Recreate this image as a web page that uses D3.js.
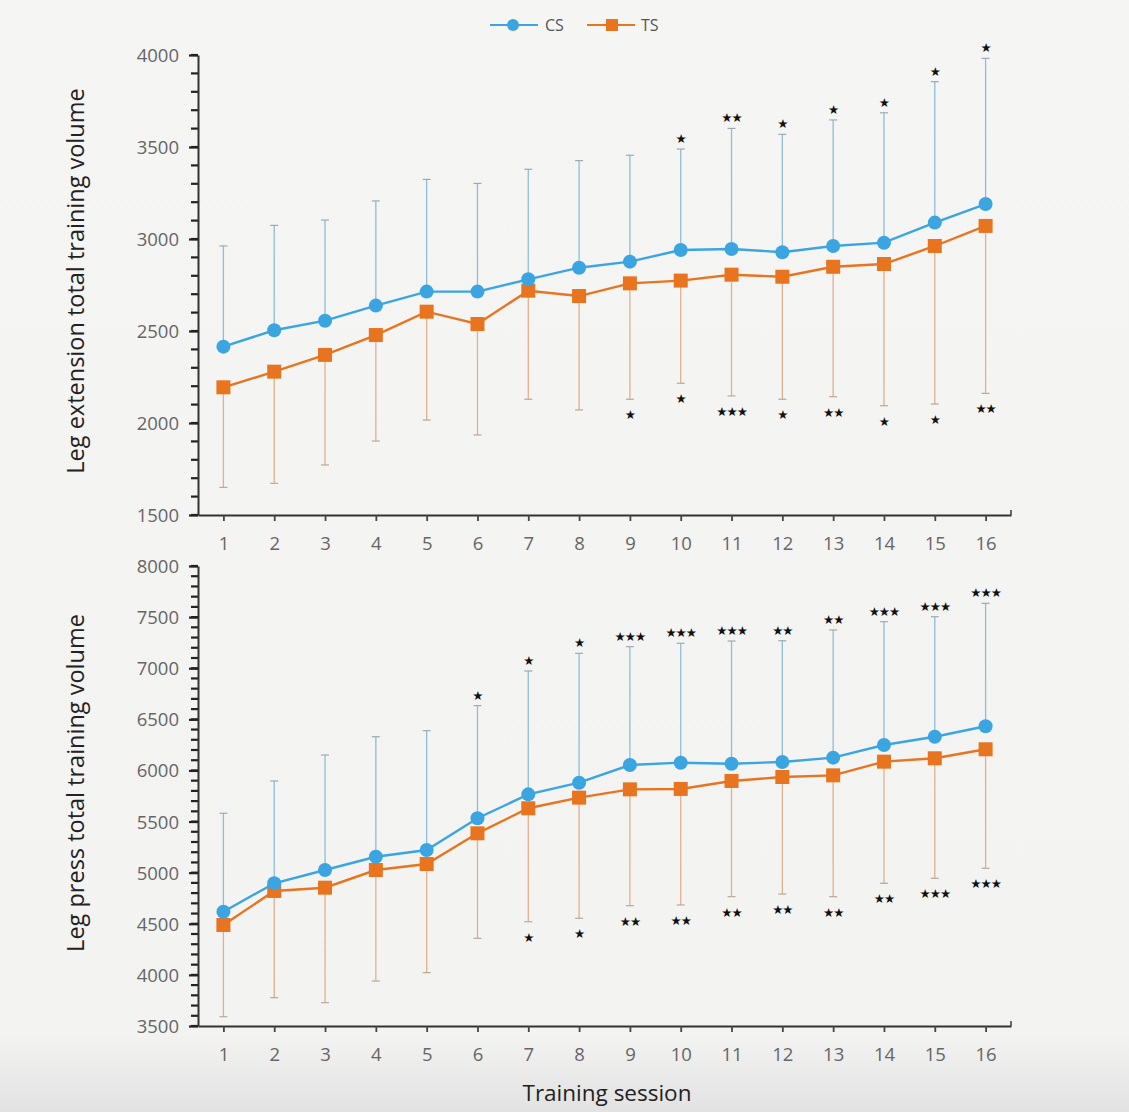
<!DOCTYPE html>
<html><head><meta charset="utf-8">
<script src="https://cdn.jsdelivr.net/npm/d3@7"></script>
<style>
html,body{margin:0;padding:0;background:#f3f3f2;}
svg{display:block;}
</style></head>
<body>
<svg id="chart" width="1129" height="1112"></svg>
<script>
const sessions = d3.range(1, 17);
// Leg extension (top panel)
const extCS      = [2415,2504,2556,2638,2714,2714,2781,2844,2877,2940,2946,2928,2962,2980,3089,3190];
const extCSUpper = [2962,3074,3103,3207,3324,3302,3379,3426,3455,3489,3601,3569,3647,3686,3855,3982];
const extTS      = [2194,2279,2370,2478,2605,2538,2719,2690,2759,2774,2806,2795,2849,2864,2962,3071];
const extTSLower = [1650,1672,1772,1902,2016,1935,2129,2071,2129,2216,2147,2129,2143,2094,2103,2161];
const extStarsTop    = ["","","","","","","","","","★","★★","★","★","★","★","★"];
const extStarsBottom = ["","","","","","","","","★","★","★★★","★","★★","★","★","★★"];
// Leg press (bottom panel)
const prCS      = [4618,4896,5026,5156,5222,5532,5766,5880,6053,6076,6066,6083,6125,6249,6330,6432];
const prCSUpper = [5581,5897,6151,6330,6389,6634,6973,7146,7211,7244,7266,7269,7374,7455,7504,7635];
const prTS      = [4488,4821,4853,5026,5085,5385,5630,5734,5815,5819,5897,5936,5952,6086,6119,6207];
const prTSLower = [3591,3777,3728,3940,4022,4358,4520,4554,4677,4684,4765,4791,4765,4896,4945,5043];
const prStarsTop    = ["","","","","","★","★","★","★★★","★★★","★★★","★★","★★","★★★","★★★","★★★"];
const prStarsBottom = ["","","","","","","★","★","★★","★★","★★","★★","★★","★★","★★★","★★★"];

const extTicks = [1500,2000,2500,3000,3500,4000];
const prTicks  = [3500,4000,4500,5000,5500,6000,6500,7000,7500,8000];
const seriesNames = ["CS","TS"];

const blue = "#3ba5e2", orange = "#e8741f";
const blueBar = "#8fbdd6", orangeBar = "#e2b08c";
const tickFont = "'Open Sans', 'Liberation Sans', sans-serif";
const titleFont = "'Open Sans', 'Liberation Sans', Arial, sans-serif";

const svg = d3.select("#chart");
const defs = svg.append("defs");
const grad = defs.append("linearGradient").attr("id","bg").attr("x1",0).attr("x2",0).attr("y1",0).attr("y2",1);
grad.append("stop").attr("offset","0%").attr("stop-color","#f5f5f4");
grad.append("stop").attr("offset","93%").attr("stop-color","#f3f3f2");
grad.append("stop").attr("offset","100%").attr("stop-color","#e2e2e2");
svg.append("rect").attr("width",1129).attr("height",1112).attr("fill","url(#bg)");

const x = d3.scaleLinear().domain([0.5, 16.5]).range([198, 1011]);

function panel(opts){
  const y = d3.scaleLinear().domain(opts.domain).range(opts.range);
  const g = svg.append("g");
  // minor y ticks (every 100)
  const minorVals = d3.range(opts.domain[0], opts.domain[1] + 1, 100);
  g.append("g").selectAll("line").data(minorVals).join("line")
    .attr("x1",191).attr("x2",198).attr("y1",d=>y(d)).attr("y2",d=>y(d))
    .attr("stroke","#222").attr("stroke-width",2.2);
  // major y ticks + axis line
  const yAxis = d3.axisLeft(y).tickValues(opts.ticks).tickSize(9).tickPadding(10).tickSizeOuter(0).tickFormat(d3.format("d"));
  const ga = g.append("g").attr("transform","translate(198,0)").call(yAxis);
  ga.select("path").attr("stroke","#333").attr("stroke-width",2);
  ga.selectAll("line").attr("stroke","#222").attr("stroke-width",2.2);
  ga.selectAll("text").attr("font-family",tickFont).attr("font-size",18.5).attr("fill","#666").attr("dy","0.35em");
  // x axis
  const xAxis = d3.axisBottom(x).tickValues(sessions).tickSize(6).tickPadding(16).tickSizeOuter(0);
  const gx = g.append("g").attr("transform",`translate(0,${opts.range[0]})`).call(xAxis);
  gx.select("path").attr("stroke","#333").attr("stroke-width",2.2);
  gx.selectAll("line").attr("stroke","#444").attr("stroke-width",1.8);
  gx.selectAll("text").attr("font-family",tickFont).attr("font-size",18.5).attr("fill","#666");
  gx.append("line").attr("x1",x(16.5)).attr("x2",x(16.5)).attr("y1",-5).attr("y2",0).attr("stroke","#444").attr("stroke-width",1.6);

  // error bars
  const eb = g.append("g");
  sessions.forEach((s,i)=>{
    eb.append("line").attr("x1",x(s)).attr("x2",x(s)).attr("y1",y(opts.cs[i])).attr("y2",y(opts.csUp[i]))
      .attr("stroke",blueBar).attr("stroke-width",1.3);
    eb.append("line").attr("x1",x(s)-4).attr("x2",x(s)+4).attr("y1",y(opts.csUp[i])).attr("y2",y(opts.csUp[i]))
      .attr("stroke","#9aaab4").attr("stroke-width",1.2);
    eb.append("line").attr("x1",x(s)).attr("x2",x(s)).attr("y1",y(opts.ts[i])).attr("y2",y(opts.tsLo[i]))
      .attr("stroke",orangeBar).attr("stroke-width",1.3);
    eb.append("line").attr("x1",x(s)-4).attr("x2",x(s)+4).attr("y1",y(opts.tsLo[i])).attr("y2",y(opts.tsLo[i]))
      .attr("stroke","#b8a898").attr("stroke-width",1.2);
  });

  const line = d3.line().x((d,i)=>x(sessions[i])).y(d=>y(d));
  g.append("path").datum(opts.ts).attr("d",line).attr("fill","none").attr("stroke",orange).attr("stroke-width",2.4);
  g.append("path").datum(opts.cs).attr("d",line).attr("fill","none").attr("stroke",blue).attr("stroke-width",2.4);

  g.append("g").selectAll("rect").data(opts.ts).join("rect")
    .attr("x",(d,i)=>x(sessions[i])-7).attr("y",d=>y(d)-7).attr("width",14).attr("height",14)
    .attr("fill",orange);
  g.append("g").selectAll("circle").data(opts.cs).join("circle")
    .attr("cx",(d,i)=>x(sessions[i])).attr("cy",d=>y(d)).attr("r",7).attr("fill",blue);

  // significance stars
  g.append("g").selectAll("text").data(opts.starsTop).join("text")
    .attr("x",(d,i)=>x(sessions[i])).attr("y",(d,i)=>y(opts.csUp[i])-6)
    .attr("text-anchor","middle").attr("font-family","'DejaVu Sans', sans-serif").attr("font-size",12.5)
    .attr("letter-spacing",-1).attr("fill","#111").text(d=>d);
  g.append("g").selectAll("text").data(opts.starsBottom).join("text")
    .attr("x",(d,i)=>x(sessions[i])).attr("y",(d,i)=>y(opts.tsLo[i])+20)
    .attr("text-anchor","middle").attr("font-family","'DejaVu Sans', sans-serif").attr("font-size",12.5)
    .attr("letter-spacing",-1).attr("fill","#111").text(d=>d);

  svg.append("text").attr("transform",`translate(84,${opts.titleY}) rotate(-90)`).attr("text-anchor","middle")
    .attr("font-family",titleFont).attr("font-size",23.5).attr("fill","#222").text(opts.title);
}

panel({domain:[1500,4000], range:[515,55], ticks:extTicks, cs:extCS, csUp:extCSUpper, ts:extTS, tsLo:extTSLower,
       starsTop:extStarsTop, starsBottom:extStarsBottom, title:"Leg extension total training volume", titleY:281});
panel({domain:[3500,8000], range:[1026,566], ticks:prTicks, cs:prCS, csUp:prCSUpper, ts:prTS, tsLo:prTSLower,
       starsTop:prStarsTop, starsBottom:prStarsBottom, title:"Leg press total training volume", titleY:783});

svg.append("text").attr("x",607).attr("y",1101).attr("text-anchor","middle")
  .attr("font-family",titleFont).attr("font-size",22.5).attr("fill","#222")
  .text("Training session");

// legend
const lg = svg.append("g");
lg.append("line").attr("x1",490).attr("x2",538).attr("y1",25).attr("y2",25).attr("stroke",blue).attr("stroke-width",2);
lg.append("circle").attr("cx",513).attr("cy",25).attr("r",6).attr("fill",blue);
lg.append("text").attr("x",545).attr("y",31).attr("font-family",tickFont)
  .attr("font-size",16).attr("fill","#555").text(seriesNames[0]);
lg.append("line").attr("x1",587).attr("x2",635).attr("y1",25).attr("y2",25).attr("stroke",orange).attr("stroke-width",2);
lg.append("rect").attr("x",606).attr("y",19).attr("width",12).attr("height",12).attr("fill",orange);
lg.append("text").attr("x",641).attr("y",31).attr("font-family",tickFont)
  .attr("font-size",16).attr("fill","#555").text(seriesNames[1]);
</script>
</body></html>
